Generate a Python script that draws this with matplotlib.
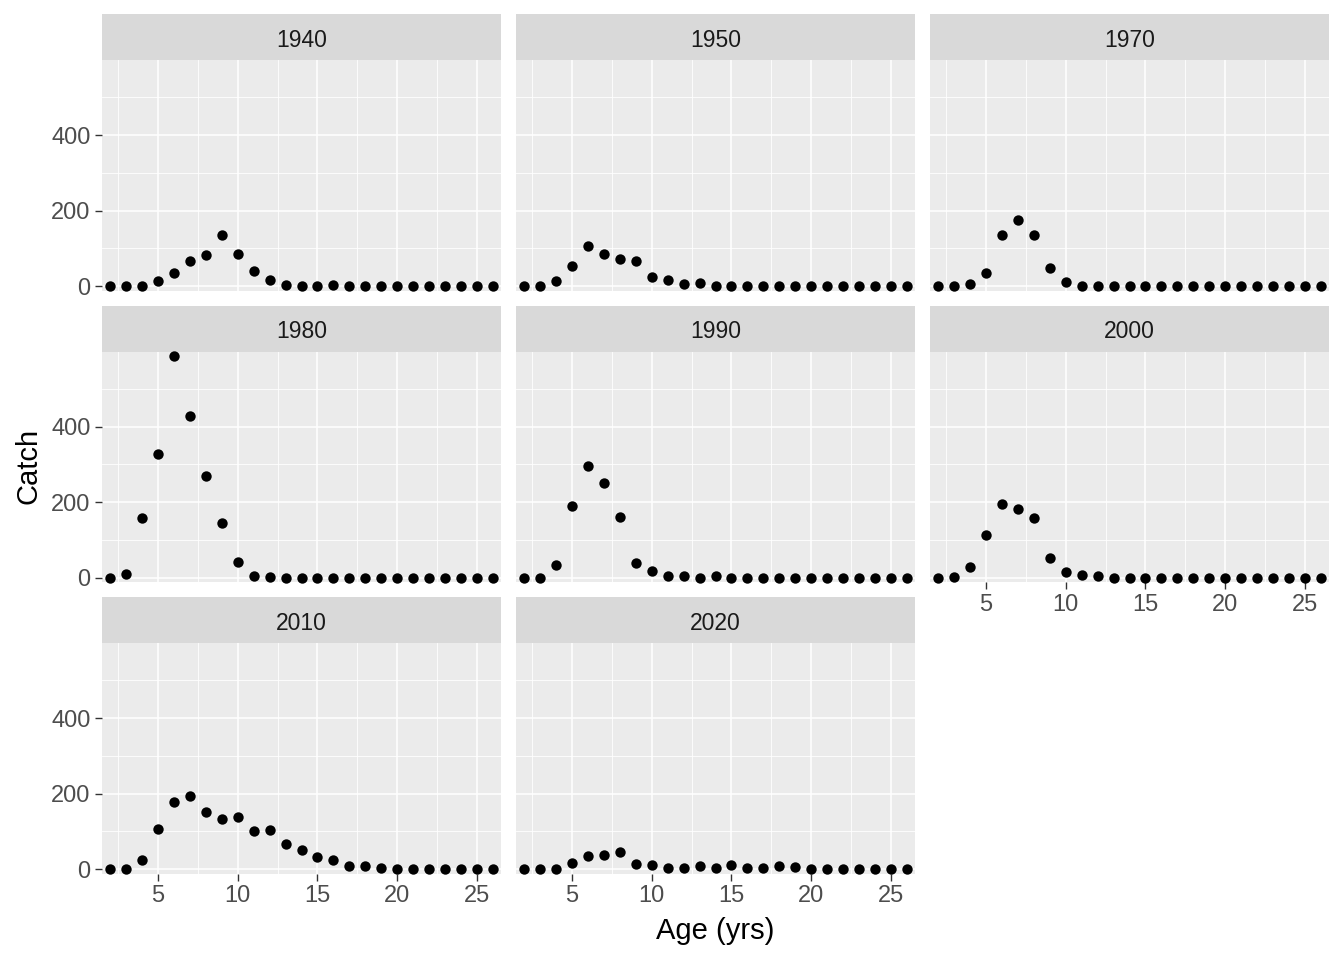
import numpy as np
import matplotlib.pyplot as plt

plt.rcParams['font.family'] = ['Liberation Sans', 'DejaVu Sans']

ages = list(range(2, 27))
years = ["1940", "1950", "1970", "1980", "1990", "2000", "2010", "2020"]

catch_1940 = [0, 0, 0, 13, 34, 67, 82, 135, 84, 39, 15, 4, 1, 1, 4, 0, 0, 0, 0, 0, 0, 0, 0, 0, 0]
catch_1950 = [0, 0, 13, 52, 106, 86, 72, 66, 25, 15, 6, 7, 1, 0, 0, 0, 0, 0, 0, 0, 0, 0, 0, 0, 0]
catch_1970 = [0, 0, 6, 34, 135, 175, 135, 49, 12, 0, 0, 0, 0, 0, 0, 0, 0, 0, 0, 0, 0, 0, 0, 0, 0]
catch_1980 = [0, 9, 158, 328, 587, 427, 270, 145, 42, 4, 2, 0, 0, 0, 0, 0, 0, 0, 0, 0, 0, 0, 0, 0, 0]
catch_1990 = [0, 0, 33, 189, 296, 251, 160, 39, 17, 4, 4, 0, 4, 0, 0, 0, 0, 0, 0, 0, 0, 0, 0, 0, 0]
catch_2000 = [0, 2, 28, 112, 196, 181, 158, 52, 14, 6, 4, 0, 0, 0, 0, 0, 0, 0, 0, 0, 0, 0, 0, 0, 0]
catch_2010 = [0, 0, 25, 107, 177, 194, 151, 133, 139, 102, 104, 66, 51, 32, 25, 7, 8, 4, 0, 0, 0, 0, 0, 0, 0]
catch_2020 = [0, 0, 0, 17, 35, 37, 45, 13, 10, 4, 4, 7, 4, 10, 3, 3, 8, 6, 0, 0, 0, 0, 0, 0, 0]
catches = [catch_1940, catch_1950, catch_1970, catch_1980,
           catch_1990, catch_2000, catch_2010, catch_2020]

x_ticks = [5, 10, 15, 20, 25]
y_ticks = [0, 200, 400]

W, H = 1344, 960
fig = plt.figure(figsize=(W / 100, H / 100), dpi=100)

col_left = [102, 516, 930]
panel_w = 399
strip_top = [14, 305.5, 597]
strip_h = 46
panel_h = 230.5

# ggplot-like 2% expansion on both axes
all_vals = np.concatenate([np.array(c) for c in catches])
ymin, ymax = 0, all_vals.max()
yr = ymax - ymin
ylim = (ymin - 0.02 * yr, ymax + 0.02 * yr)
xr = max(ages) - min(ages)
xlim = (min(ages) - 0.02 * xr, max(ages) + 0.02 * xr)

tick_col = '#333333'
lab_col = '#4D4D4D'

for i, (yr_name, vals) in enumerate(zip(years, catches)):
    row, col = divmod(i, 3)
    x0 = col_left[col]
    st = strip_top[row]
    # strip
    sax = fig.add_axes([x0 / W, 1 - (st + strip_h) / H, panel_w / W, strip_h / H])
    sax.set_facecolor('#D9D9D9')
    sax.set_xticks([])
    sax.set_yticks([])
    for s in sax.spines.values():
        s.set_visible(False)
    sax.text(0.5, 0.43, yr_name, ha='center', va='center', fontsize=16.5,
             color='#1A1A1A', transform=sax.transAxes)

    ax = fig.add_axes([x0 / W, 1 - (st + strip_h + panel_h) / H, panel_w / W, panel_h / H])
    ax.set_facecolor('#EBEBEB')
    ax.set_xlim(*xlim)
    ax.set_ylim(*ylim)
    ax.set_xticks(x_ticks)
    ax.set_yticks(y_ticks)
    ax.set_xticks([2.5, 7.5, 12.5, 17.5, 22.5], minor=True)
    ax.set_yticks([100, 300, 500], minor=True)
    ax.grid(which='major', color='white', linewidth=1.15)
    ax.grid(which='minor', color='white', linewidth=0.6)
    ax.set_axisbelow(True)
    for s in ax.spines.values():
        s.set_visible(False)
    ax.tick_params(which='minor', length=0)
    ax.tick_params(which='major', length=5.3, width=1.0, color=tick_col,
                   labelsize=17, labelcolor=lab_col, pad=3)

    ax.scatter(ages, vals, s=56, color='black', zorder=3, clip_on=False, linewidths=0)

    show_x = (row == 2) or (row == 1 and col == 2)
    if not show_x:
        ax.tick_params(axis='x', length=0, labelbottom=False)
    if col != 0:
        ax.tick_params(axis='y', length=0, labelleft=False)

fig.text(715.5 / W, 1 - 931 / H, 'Age (yrs)', ha='center', va='center', fontsize=21)
fig.text(28 / W, 1 - 466 / H, 'Catch', ha='center', va='center', fontsize=21, rotation=90)

fig.savefig('out.png', dpi=100)
